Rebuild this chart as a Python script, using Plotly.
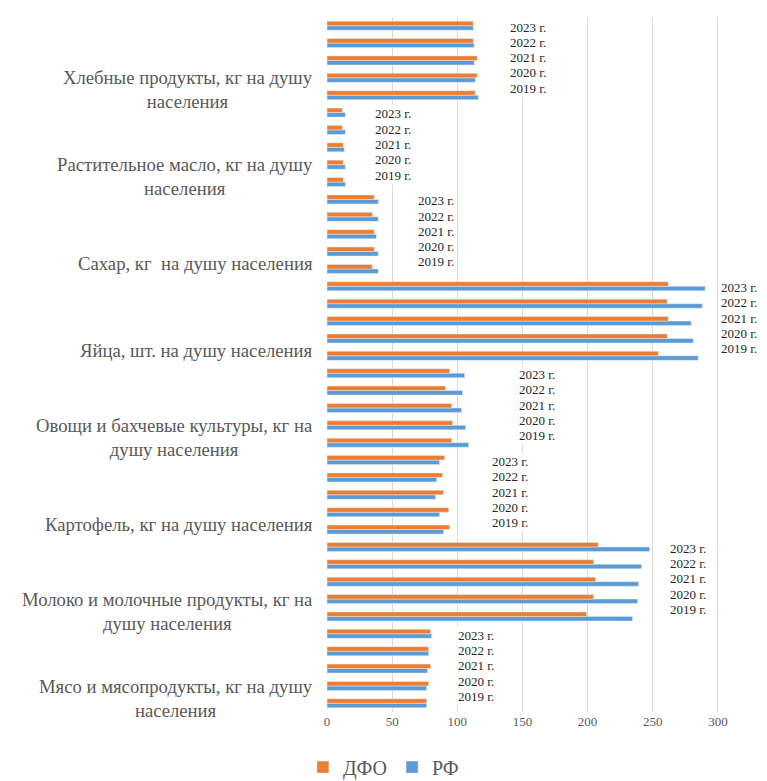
import plotly.graph_objects as go

# products, listed from the top of the chart down
products = [
    "Хлебные продукты, кг на душу<br>населения",
    "Растительное масло, кг на душу<br>населения",
    "Сахар, кг  на душу населения",
    "Яйца, шт. на душу населения",
    "Овощи и бахчевые культуры, кг на<br>душу населения",
    "Картофель, кг на душу населения",
    "Молоко и молочные продукты, кг на<br>душу населения",
    "Мясо и мясопродукты, кг на душу<br>населения",
]
years = ["2019 г.", "2020 г.", "2021 г.", "2022 г.", "2023 г."]

# values per product, 2019 .. 2023
dfo = [
    [113.8, 115.3, 115.3, 112.3, 112.3],
    [12.5, 12.5, 12.5, 11.8, 11.8],
    [34.8, 36.3, 36.3, 34.8, 36.3],
    [254.2, 261.1, 261.9, 261.1, 261.9],
    [95.7, 96.4, 95.7, 91.0, 94.1],
    [94.1, 93.4, 89.5, 88.7, 90.3],
    [199.2, 204.6, 206.1, 204.6, 208.2],
    [76.5, 78.0, 79.5, 78.0, 79.5],
]
rf = [
    [116.1, 113.8, 113.0, 113.0, 112.3],
    [14.1, 14.1, 13.3, 14.1, 14.1],
    [39.4, 39.4, 37.9, 39.4, 39.4],
    [284.9, 281.1, 279.5, 288.0, 290.3],
    [108.7, 106.4, 103.3, 104.1, 105.6],
    [89.5, 86.4, 83.4, 84.1, 86.4],
    [234.5, 238.4, 239.1, 241.4, 247.6],
    [76.5, 76.5, 77.2, 78.0, 80.3],
]

# where Excel dropped the year labels in each block (x, left edge)
year_label_x = [139, 35, 68, 301, 146, 125, 262, 99]

FONT = "Liberation Serif, Times New Roman, serif"
n = len(products)

ys, x_dfo, x_rf = [], [], []
for k in range(n):
    g = n - 1 - k  # block position counted from the bottom
    for i in range(len(years)):
        ys.append(5 * g + i)
        x_dfo.append(dfo[k][i])
        x_rf.append(rf[k][i])

fig = go.Figure()
fig.add_trace(go.Bar(x=x_rf, y=ys, orientation="h", name="РФ",
                     marker_color="#5B9BD5", legendrank=2))
fig.add_trace(go.Bar(x=x_dfo, y=ys, orientation="h", name="ДФО",
                     marker_color="#ED7D31", legendrank=1))

annotations = []
for k in range(n):
    g = n - 1 - k
    annotations.append(dict(
        x=0, xref="paper", xanchor="right", xshift=-12,
        y=5 * g + 0.3, yref="y", yanchor="middle",
        text=products[k], showarrow=False, align="center",
        font=dict(family=FONT, size=18.7, color="#595959"),
    ))
    for i, yr in enumerate(years):
        annotations.append(dict(
            x=year_label_x[k], xref="x", xanchor="left",
            y=5 * g + 0.4 + 0.88 * i, yref="y", yanchor="middle",
            text=yr, showarrow=False, bgcolor="white", borderpad=1,
            font=dict(family=FONT, size=13, color="#262626"),
        ))

# page body has an 8px margin, so the figure is a bit smaller than the window
fig.update_layout(
    width=759, height=773,
    margin=dict(l=319, r=10, t=9, b=69),
    paper_bgcolor="white", plot_bgcolor="white",
    barmode="group", bargap=0.48, bargroupgap=0,
    font=dict(family=FONT, color="#595959"),
    annotations=annotations,
    legend=dict(orientation="h", x=-0.056, xanchor="left",
                yref="container", y=0.018, yanchor="middle",
                font=dict(family=FONT, size=20, color="#595959")),
    showlegend=True,
)
fig.update_xaxes(range=[0, 330], tickvals=[0, 50, 100, 150, 200, 250, 300],
                 showgrid=True, gridcolor="#D9D9D9", gridwidth=1,
                 zeroline=False, showline=False, ticks="",
                 tickfont=dict(family=FONT, size=13, color="#595959"))
fig.update_yaxes(range=[-0.5, 39.5], showticklabels=False, showgrid=False,
                 zeroline=False, showline=False, ticks="")

fig.write_html("out.html")
